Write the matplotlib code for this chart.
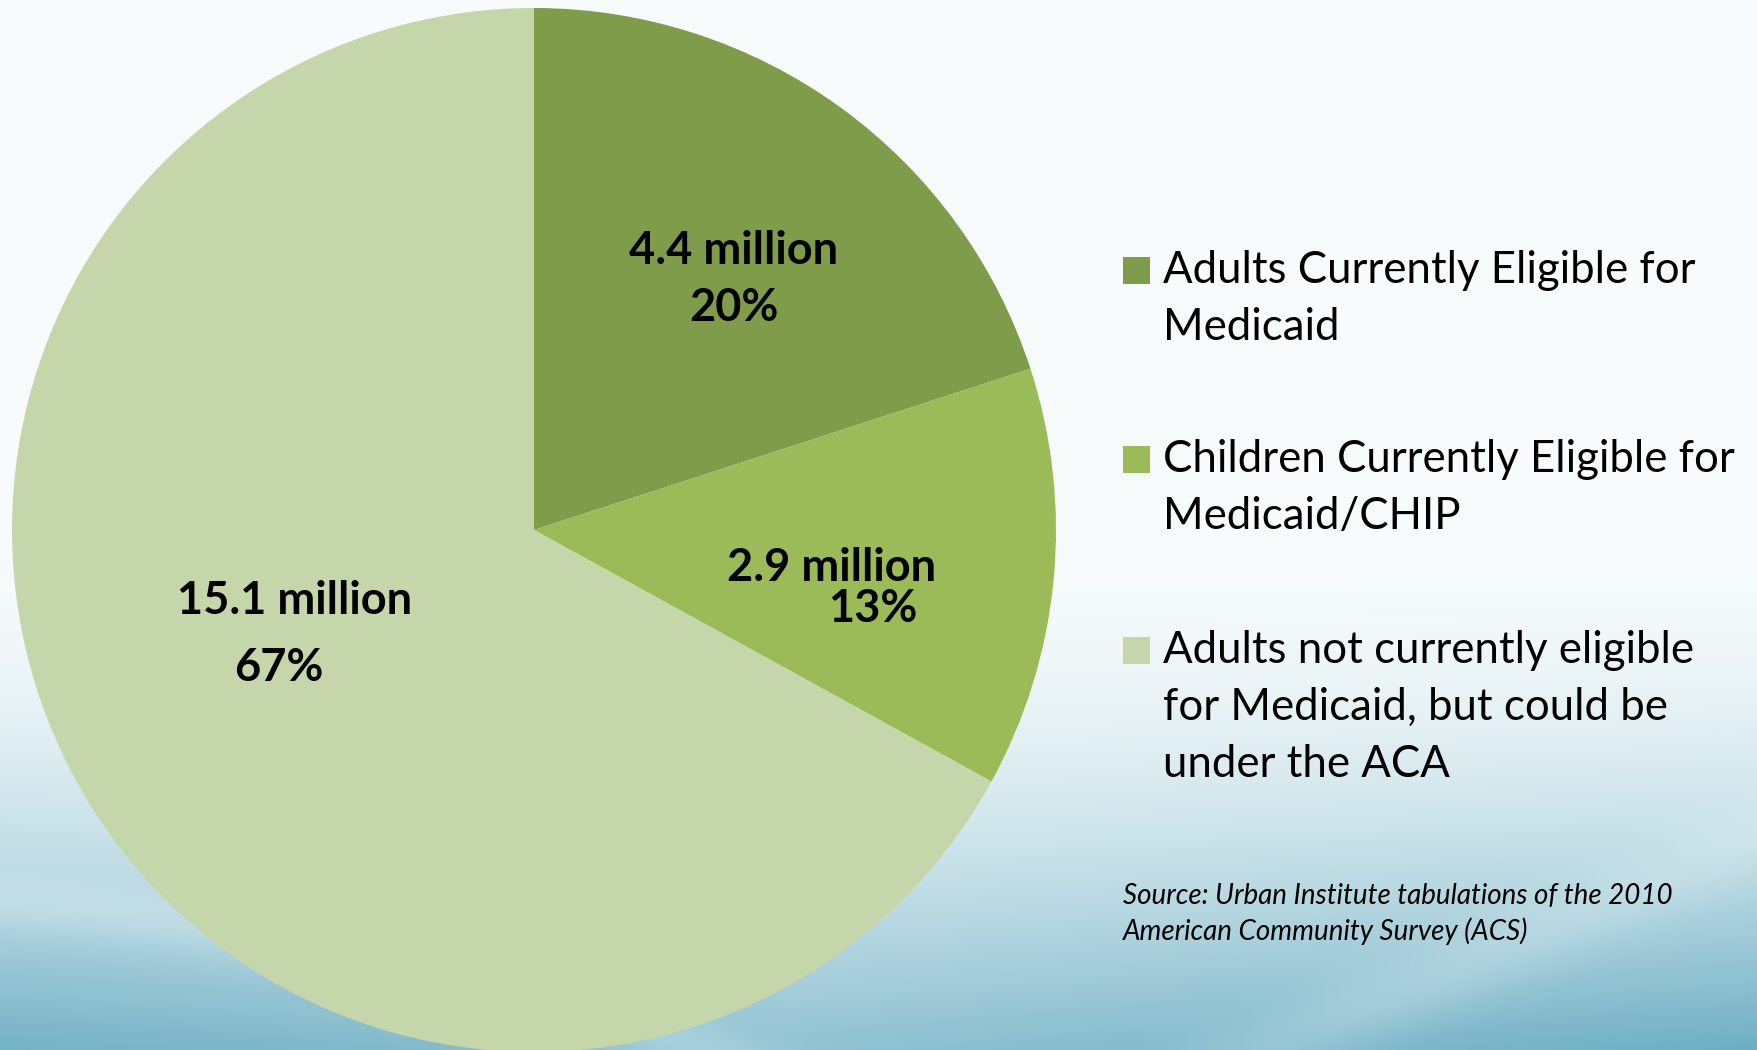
import numpy as np
import matplotlib
matplotlib.use("Agg")
import matplotlib.pyplot as plt

plt.rcParams["font.family"] = ["Lato", "DejaVu Sans"]

# data
categories = ["Adults Currently Eligible for\nMedicaid",
              "Children Currently Eligible for\nMedicaid/CHIP",
              "Adults not currently eligible\nfor Medicaid, but could be\nunder the ACA"]
millions = ["4.4", "2.9", "15.1"]
shares = [20, 13, 67]
colors = ["#7F9C4B", "#9BBB59", "#C5D6AB"]
source = ["Source: Urban Institute tabulations of the 2010",
          "American Community Survey (ACS)"]

fig = plt.figure(figsize=(17.58, 10.5), dpi=100)

# background gradient
bg = fig.add_axes([0, 0, 1, 1])
h, w = 210, 352
yy, xx = np.mgrid[0:1:h * 1j, 0:1:w * 1j]
t = np.clip((yy - 0.52) / 0.48, 0, 1) ** 1.8
edge = 0.75 + 0.25 * np.abs(xx - 0.45) / 0.55
t = t * edge
# light swooshes near the bottom
curve_l = 0.86 + 0.6 * xx ** 2 + 0.12 * xx
curve_r = 1.02 - 0.22 * (xx - 0.7) / 0.3
t = t * (1 - 0.25 * np.exp(-((yy - curve_l) / 0.03) ** 2))
t = t * (1 - 0.2 * np.exp(-((yy - curve_r) / 0.04) ** 2) * (xx > 0.65))
t = np.clip(t, 0, 1)
top = np.array([247, 251, 252]) / 255
bot = np.array([110, 175, 196]) / 255
img = top[None, None, :] * (1 - t[..., None]) + bot[None, None, :] * t[..., None]
bg.imshow(img, aspect="auto", interpolation="bilinear", extent=[0, 1, 0, 1])
bg.axis("off")

# pie
ax = fig.add_axes([12 / 1758, -2 / 1050, 1044 / 1758, 1044 / 1050])
wedges, _ = ax.pie(shares, colors=colors, startangle=90, counterclock=False,
                   radius=1, wedgeprops=dict(linewidth=0))
ax.set_xlim(-1, 1)
ax.set_ylim(-1, 1)
ax.set_aspect("equal")
ax.axis("off")

lab_font = dict(fontsize=32.5, fontweight="bold", color="black", ha="center", va="center")
ax.text(0.383, 0.534, f"{millions[0]} million", **lab_font)
ax.text(0.383, 0.425, f"{shares[0]}%", **lab_font)
ax.text(0.571, -0.073, f"{millions[1]} million", **lab_font)
ax.text(0.649, -0.151, f"{shares[1]}%", **lab_font)
ax.text(-0.458, -0.136, f"{millions[2]} million", **lab_font)
ax.text(-0.489, -0.264, f"{shares[2]}%", **lab_font)

# legend drawn by hand, one text per line (baseline positions in pixels from top)
leg_base = [283, 472, 663]
for y, c, lab in zip(leg_base, colors, categories):
    fig.patches.append(plt.Rectangle((1123 / 1758, 1 - (y + 1) / 1050), 27 / 1758, 27 / 1050,
                                     transform=fig.transFigure, color=c, linewidth=0))
    for i, line in enumerate(lab.split("\n")):
        fig.text(1163 / 1758, 1 - (y + 57 * i) / 1050, line, fontsize=31.5,
                 va="baseline", ha="left", color="black")

for i, line in enumerate(source):
    fig.text(1123 / 1758, 1 - (904 + 36 * i) / 1050, line, fontsize=20, style="italic",
             va="baseline", ha="left", color="black")

fig.savefig("out.png", dpi=100)
